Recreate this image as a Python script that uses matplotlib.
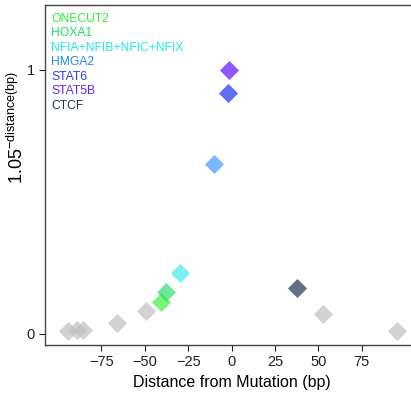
import matplotlib
matplotlib.use('Agg')
import matplotlib.pyplot as plt

plt.rcParams['font.family'] = ['Liberation Sans', 'DejaVu Sans']
plt.rcParams['mathtext.fontset'] = 'custom'
plt.rcParams['mathtext.rm'] = 'Liberation Sans'

# Motif hits with a named factor
tf_names = ['ONECUT2', 'HOXA1', 'NFIA+NFIB+NFIC+NFIX', 'HMGA2', 'STAT6', 'STAT5B', 'CTCF']
tf_colors = ['#33ee33', '#22dd66', '#22e8e8', '#2288ff', '#2a3cf5', '#6a22ff', '#223355']
tf_dist = [-40.8, -37.8, -30.0, -10.0, -2.3, -1.4, 37.6]
tf_score = [0.120, 0.158, 0.232, 0.644, 0.912, 1.0, 0.173]

# Other hits, drawn in grey
bg_dist = [-94.0, -89.3, -85.5, -66.0, -49.4, 52.8, 95.4]
bg_score = [0.011, 0.014, 0.014, 0.043, 0.085, 0.076, 0.011]

x_ticks = [-75, -50, -25, 0, 25, 50, 75]

fig = plt.figure(figsize=(4.11, 3.96), dpi=100)
ax = fig.add_axes([0.1095, 0.1288, 0.908, 0.8586])

ax.scatter(bg_dist, bg_score, marker='D', s=95, color='#c0c0c0', alpha=0.7, linewidths=0)
tf_alpha = [0.65, 0.65, 0.6, 0.6, 0.75, 0.75, 0.7]
for d, sc, c, a in zip(tf_dist, tf_score, tf_colors, tf_alpha):
    ax.scatter(d, sc, marker='D', s=95, color=c, alpha=a, linewidths=0)

# factor names stacked in the top-left corner
for i, (name, c) in enumerate(zip(tf_names, tf_colors)):
    ax.text(0.016, 0.959 - i * 0.0426, name, color=c, fontsize=8.7,
            transform=ax.transAxes, va='center', ha='left')

ax.set_xlim(-107.5, 107.5)
ax.set_ylim(-0.042, 1.246)
ax.set_xticks(x_ticks)
ax.set_xticklabels(['\u2212' + str(-t) if t < 0 else str(t) for t in x_ticks])
ax.set_yticks([0, 1])
ax.set_yticklabels(['0', '1'])
ax.tick_params(direction='out', length=4, width=0.8, labelsize=10.5, colors='#222222')

ax.set_xlabel('Distance from Mutation (bp)', fontsize=11.5)
ax.set_ylabel(r'$1.05^{\mathrm{-distance(bp)}}$', fontsize=13)
ax.yaxis.set_label_coords(-0.048, 0.64)

for side in ['left', 'top', 'bottom']:
    ax.spines[side].set_color('#444444')
    ax.spines[side].set_linewidth(1.0)
ax.spines['right'].set_visible(False)

fig.savefig('out.png', dpi=100)
